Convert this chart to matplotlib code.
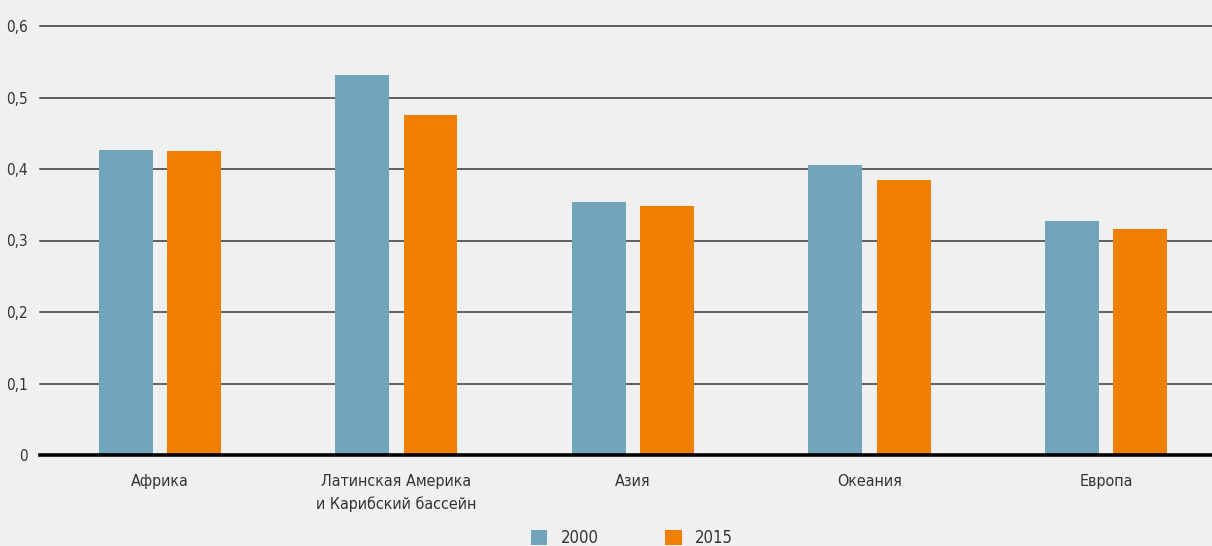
import matplotlib
matplotlib.use("Agg")
import matplotlib.pyplot as plt
import numpy as np
from matplotlib.patches import Patch
from matplotlib import font_manager
from matplotlib.font_manager import FontProperties

categories = ["Африка", "Латинская Америка\nи Карибский бассейн", "Азия", "Океания", "Европа"]
series_names = ["2000", "2015"]
values_2000 = [0.427, 0.531, 0.354, 0.406, 0.327]
values_2015 = [0.425, 0.475, 0.348, 0.385, 0.316]
yticks = [0, 0.1, 0.2, 0.3, 0.4, 0.5, 0.6]
ytick_labels = ["0", "0,1", "0,2", "0,3", "0,4", "0,5", "0,6"]

# pick a condensed font if one is installed
fpath = None
cands = []
for f in font_manager.fontManager.ttflist:
    nm = (f.name + " " + f.fname).lower()
    if ("condensed" in nm or "narrow" in nm or f.stretch in ("condensed", "semi-condensed")) \
            and "bold" not in nm and "italic" not in nm and "oblique" not in nm and "light" not in nm:
        cands.append(f.fname)
pref = ["dejavusanscondensed.ttf", "liberationsansnarrow-regular.ttf", "robotocondensed-regular.ttf"]
for p in pref:
    for c in cands:
        if c.lower().endswith(p):
            fpath = c
            break
    if fpath:
        break
if fpath is None and cands:
    fpath = cands[0]

def fp(size):
    if fpath:
        return FontProperties(fname=fpath, size=size)
    return FontProperties(family="DejaVu Sans", size=size * 0.9)

bg = "#f0f0f0"
c_blue = "#71a5ba"
c_orange = "#f07f00"
txt = "#333333"

fig = plt.figure(figsize=(12.12, 5.46), dpi=100, facecolor=bg)
ax = fig.add_axes([40/1212, 1-455/546, 1172/1212, (455-26)/546])
ax.set_facecolor(bg)

x = np.arange(len(categories))
w = 0.228
off = 0.144
ax.bar(x - off, values_2000, width=w, color=c_blue, zorder=3)
ax.bar(x + off, values_2015, width=w, color=c_orange, zorder=3)

ax.set_xlim(-0.507, 4.448)
ax.set_ylim(0, 0.6)
ax.set_yticks(yticks)
ax.set_yticklabels(ytick_labels, fontproperties=fp(11))
for y in yticks[1:]:
    ax.axhline(y, color="#383838", lw=1.1, zorder=1, clip_on=False)
ax.axhline(0, color="black", lw=2.6, zorder=4, clip_on=False)

for s in ax.spines.values():
    s.set_visible(False)
ax.set_xticks(x)
ax.set_xticklabels(categories, linespacing=1.55, fontproperties=fp(11.5))
ax.tick_params(axis='both', length=0, colors=txt)
ax.tick_params(axis='y', pad=9)
ax.tick_params(axis='x', pad=14)

handles = [Patch(facecolor=c_blue), Patch(facecolor=c_orange)]
fig.legend(handles, series_names, loc="center", bbox_to_anchor=(632/1212, 1-538/546),
           ncol=2, frameon=False, prop=fp(12), handlelength=1.0, handleheight=1.0,
           columnspacing=4.0, handletextpad=0.8, labelcolor=txt)

fig.savefig("out.png", dpi=100, facecolor=bg)
